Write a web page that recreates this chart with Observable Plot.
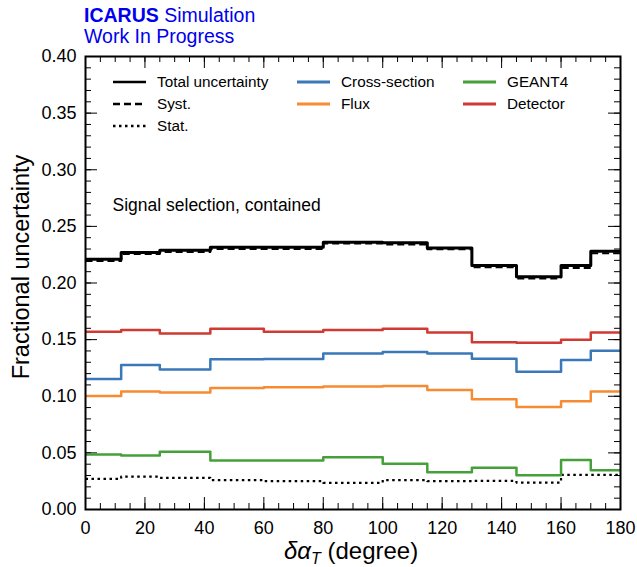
<!DOCTYPE html>
<html>
<head>
<meta charset="utf-8">
<script src="https://cdn.jsdelivr.net/npm/d3@7"></script>
<script src="https://cdn.jsdelivr.net/npm/@observablehq/plot@0.6"></script>
<style>
  body { margin: 0; background: #fff; }
  #wrap { position: relative; width: 637px; height: 567px; font-family: "Liberation Sans", Arial, sans-serif; }
  .abs { position: absolute; white-space: nowrap; }
  .title { color: #0000ee; font-size: 19.5px; line-height: 21px; }
  .leg { position: absolute; font-size: 15.3px; line-height: 16px; color: #000; }
  .leg svg { position: absolute; }
</style>
</head>
<body>
<div id="wrap"></div>
<script>
// Bin edges (degrees) and per-bin values
const edges = [0, 12, 25, 42, 60, 80, 100, 115, 130, 145, 160, 170, 180];
const totalUnc = [0.221, 0.227, 0.229, 0.2315, 0.2315, 0.236, 0.2355, 0.231, 0.2155, 0.2055, 0.2155, 0.228];
const systUnc  = [0.2195, 0.2255, 0.2273, 0.230, 0.230, 0.2348, 0.234, 0.2297, 0.214, 0.204, 0.2133, 0.2262];
const statUnc  = [0.027, 0.029, 0.028, 0.026, 0.025, 0.0235, 0.026, 0.025, 0.0253, 0.0238, 0.0306, 0.0306];
const xsecUnc  = [0.1152, 0.1276, 0.1237, 0.1326, 0.133, 0.1378, 0.139, 0.1378, 0.1332, 0.1217, 0.132, 0.1402];
const fluxUnc  = [0.1003, 0.1043, 0.1034, 0.1073, 0.1079, 0.1087, 0.109, 0.1056, 0.0973, 0.0906, 0.0955, 0.1043];
const geantUnc = [0.0485, 0.0476, 0.0509, 0.0432, 0.0432, 0.0461, 0.0403, 0.0329, 0.0368, 0.0302, 0.0438, 0.0347];
const detUnc   = [0.157, 0.1585, 0.1555, 0.1596, 0.157, 0.1585, 0.1596, 0.1564, 0.1476, 0.1473, 0.150, 0.1564];

const xMajor = [0, 20, 40, 60, 80, 100, 120, 140, 160, 180];
const xMinor = d3.range(0, 181, 5);
const yMajor = [0, 0.05, 0.10, 0.15, 0.20, 0.25, 0.30, 0.35, 0.40];
const yMinor = d3.range(0, 41, 1).map(d => d / 100);

const series = [
  {name: "Total uncertainty", vals: totalUnc, color: "#000000", width: 3, dash: null},
  {name: "Syst.", vals: systUnc, color: "#000000", width: 2, dash: "7,4"},
  {name: "Stat.", vals: statUnc, color: "#000000", width: 2.2, dash: "2.5,3.5"},
  {name: "Cross-section", vals: xsecUnc, color: "#3a78b8", width: 2.5, dash: null},
  {name: "Flux", vals: fluxUnc, color: "#f68b33", width: 2.5, dash: null},
  {name: "GEANT4", vals: geantUnc, color: "#45a03a", width: 2.5, dash: null},
  {name: "Detector", vals: detUnc, color: "#d03a35", width: 2.5, dash: null}
];

function stepData(vals) {
  const pts = vals.map((v, i) => ({x: edges[i], y: v}));
  pts.push({x: edges[edges.length - 1], y: vals[vals.length - 1]});
  return pts;
}

const W = 637, H = 567, mL = 85, mR = 17, mT = 56, mB = 58;
const fw = W - mL - mR, fh = H - mT - mB;

const lineMarks = series.map(s => Plot.line(stepData(s.vals), {
  x: "x", y: "y", curve: "step-after", stroke: s.color, strokeWidth: s.width,
  strokeDasharray: s.dash || undefined, strokeLinecap: "butt"
}));

const chart = Plot.plot({
  width: W, height: H,
  marginLeft: mL, marginRight: mR, marginTop: mT, marginBottom: mB,
  x: {domain: [0, 180]},
  y: {domain: [0, 0.40]},
  style: {fontFamily: "Liberation Sans, Arial, sans-serif", fontSize: "18px", color: "#000", background: "#fff"},
  marks: [
    // inward ticks on all four sides
    Plot.tickX(xMinor, {x: d => d, insetTop: fh - 6, stroke: "#000", strokeWidth: 1}),
    Plot.tickX(xMinor, {x: d => d, insetBottom: fh - 6, stroke: "#000", strokeWidth: 1}),
    Plot.tickX(xMajor, {x: d => d, insetTop: fh - 12, stroke: "#000", strokeWidth: 1}),
    Plot.tickX(xMajor, {x: d => d, insetBottom: fh - 12, stroke: "#000", strokeWidth: 1}),
    Plot.tickY(yMinor, {y: d => d, insetRight: fw - 6, stroke: "#000", strokeWidth: 1}),
    Plot.tickY(yMinor, {y: d => d, insetLeft: fw - 6, stroke: "#000", strokeWidth: 1}),
    Plot.tickY(yMajor, {y: d => d, insetRight: fw - 12, stroke: "#000", strokeWidth: 1}),
    Plot.tickY(yMajor, {y: d => d, insetLeft: fw - 12, stroke: "#000", strokeWidth: 1}),
    Plot.axisX({ticks: xMajor, tickSize: 0, tickPadding: 12, label: null, fontSize: 18}),
    Plot.axisY({ticks: yMajor, tickSize: 0, tickPadding: 9, label: null, fontSize: 18, tickFormat: d3.format(".2f")}),
    ...lineMarks,
    Plot.text(["Signal selection, contained"], {frameAnchor: "top-left", dx: 27, dy: 142, textAnchor: "start", fontSize: 17.5, fill: "#000"}),
    Plot.text(["Fractional uncertainty"], {frameAnchor: "left", textAnchor: "middle", rotate: -90, dx: -64, dy: -16, fontSize: 23.5, fill: "#000"}),
    Plot.frame({stroke: "#000", strokeWidth: 2})
  ]
});

const wrap = document.getElementById("wrap");
wrap.appendChild(chart);

// Header
const t1 = document.createElement("div");
t1.className = "abs title";
t1.style.left = "84px"; t1.style.top = "5px";
t1.innerHTML = "<b>ICARUS</b> Simulation";
wrap.appendChild(t1);
const t2 = document.createElement("div");
t2.className = "abs title";
t2.style.left = "84px"; t2.style.top = "26px";
t2.textContent = "Work In Progress";
wrap.appendChild(t2);

// X label with italic symbol and subscript
const xl = document.createElement("div");
xl.className = "abs";
xl.style.left = "284px"; xl.style.top = "539px"; xl.style.fontSize = "24px"; xl.style.lineHeight = "24px";
xl.innerHTML = "<i>δα</i><span style='font-size:16px;font-style:italic;position:relative;top:5px'>T</span> (degree)";
wrap.appendChild(xl);

// Legend (3 columns)
const legCols = [
  {x: 113, labX: 157, items: [0, 1, 2]},
  {x: 297, labX: 341, items: [3, 4]},
  {x: 463, labX: 507, items: [5, 6]}
];
const rowY = [82, 104, 126];
legCols.forEach(col => {
  col.items.forEach((si, r) => {
    const s = series[si];
    const item = document.createElement("div");
    item.className = "leg";
    item.style.left = col.x + "px";
    item.style.top = (rowY[r] - 8) + "px";
    item.style.width = "200px"; item.style.height = "16px";
    const ns = "http://www.w3.org/2000/svg";
    const svg = document.createElementNS(ns, "svg");
    svg.setAttribute("width", 34); svg.setAttribute("height", 16);
    svg.style.left = "0px"; svg.style.top = "0px";
    const ln = document.createElementNS(ns, "line");
    ln.setAttribute("x1", 0); ln.setAttribute("x2", 33);
    ln.setAttribute("y1", 8); ln.setAttribute("y2", 8);
    ln.setAttribute("stroke", s.color);
    ln.setAttribute("stroke-width", si < 3 ? 2.5 : 3);
    if (s.dash) ln.setAttribute("stroke-dasharray", s.dash);
    svg.appendChild(ln);
    item.appendChild(svg);
    const lab = document.createElement("span");
    lab.textContent = s.name;
    lab.style.position = "absolute";
    lab.style.left = (col.labX - col.x) + "px";
    lab.style.top = "0px";
    item.appendChild(lab);
    wrap.appendChild(item);
  });
});
</script>
</body>
</html>
